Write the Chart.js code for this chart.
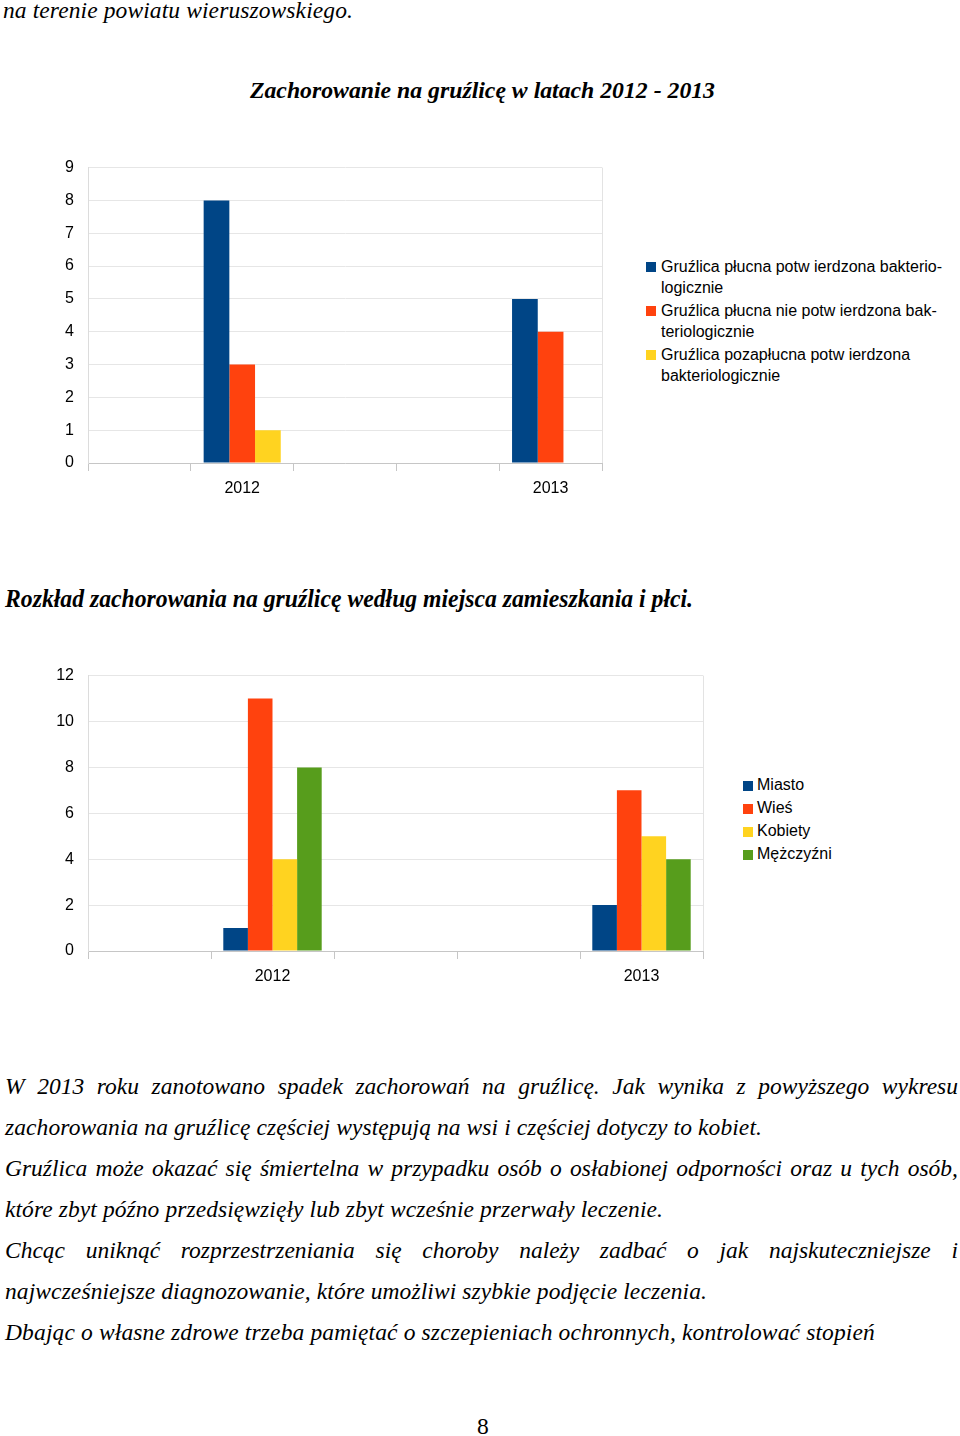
<!DOCTYPE html>
<html lang="pl">
<head>
<meta charset="utf-8">
<title>Zachorowanie na gruźlicę</title>
<script src="https://cdn.jsdelivr.net/npm/chart.js@4.4.1/dist/chart.umd.min.js"></script>
<style>
  html, body { margin: 0; padding: 0; background: #fff; }
  body { width: 960px; height: 1436px; position: relative; overflow: hidden;
    font-family: "Liberation Serif", "Times New Roman", serif; color: #000; }
  .line { position: absolute; white-space: nowrap; font-style: italic; font-size: 23.5px; }
  .body-line { left: 5px; width: 953px; line-height: 41px; }
  .just { text-align: justify; text-align-last: justify; }
  .title { font-weight: bold; line-height: 30px; transform-origin: left center; }
  canvas { position: absolute; }
  .legend { position: absolute; font-family: "Liberation Sans", Arial, sans-serif; font-size: 16px; color: #000; }
  .legend .item { position: relative; }
  .legend .sw { position: absolute; left: 0; width: 10px; height: 10px; }
</style>
</head>
<body>

<div class="line" style="left:3px; top:-4px; line-height:28px;" data-w="350">na terenie powiatu wieruszowskiego.</div>

<div class="line title" style="left:250px; top:76px; font-size:23px;" data-scale="465">Zachorowanie na gruźlicę w latach 2012 - 2013</div>
<canvas id="chart1" width="565" height="353" style="left:40px; top:144px;"></canvas>
<div class="legend" id="legend1" style="left:646px; top:256px;"></div>

<div class="line title" style="left:5px; top:584px; font-size:25px;" data-scale="688">Rozkład zachorowania na gruźlicę według miejsca zamieszkania i płci.</div>
<canvas id="chart2" width="666" height="333" style="left:40px; top:652px;"></canvas>
<div class="legend" id="legend2" style="left:743px; top:773px;"></div>

<div class="line body-line just" style="top:1066px;">W 2013 roku zanotowano spadek zachorowań na gruźlicę. Jak wynika z powyższego wykresu</div>
<div class="line body-line" style="top:1107px;" data-w="757">zachorowania na gruźlicę częściej występują na wsi i częściej dotyczy to kobiet.</div>
<div class="line body-line just" style="top:1148px;">Gruźlica może okazać się śmiertelna w przypadku osób o osłabionej odporności oraz u tych osób,</div>
<div class="line body-line" style="top:1189px;" data-w="658">które zbyt późno przedsięwzięły lub zbyt wcześnie przerwały leczenie.</div>
<div class="line body-line just" style="top:1230px;">Chcąc uniknąć rozprzestrzeniania się choroby należy zadbać o jak najskuteczniejsze i</div>
<div class="line body-line" style="top:1271px;" data-w="702">najwcześniejsze diagnozowanie, które umożliwi szybkie podjęcie leczenia.</div>
<div class="line body-line" style="top:1312px;" data-w="870">Dbając o własne zdrowe trzeba pamiętać o szczepieniach ochronnych, kontrolować stopień</div>

<div class="line" style="left:477px; top:1412px; line-height:28px; font-style:normal;">8</div>

<script>
// categories (empty slots are blank rows of the original sheet)
const categories = ['', '2012', '', '', '2013'];

// chart 1 – forms of tuberculosis
const series1Labels = [
  ['Gruźlica płucna potw ierdzona bakterio-', 'logicznie'],
  ['Gruźlica płucna nie potw ierdzona bak-', 'teriologicznie'],
  ['Gruźlica pozapłucna potw ierdzona', 'bakteriologicznie'],
];
const pulmonaryConfirmed = [null, 8, null, null, 5];
const pulmonaryUnconfirmed = [null, 3, null, null, 4];
const extrapulmonaryConfirmed = [null, 1, null, null, 0];

// chart 2 – place of residence and sex
const series2Labels = [['Miasto'], ['Wieś'], ['Kobiety'], ['Mężczyźni']];
const town = [null, 1, null, null, 2];
const village = [null, 11, null, null, 7];
const women = [null, 4, null, null, 5];
const men = [null, 8, null, null, 4];

const y1Ticks = { max: 9, step: 1 };
const y2Ticks = { max: 12, step: 2 };

const COLORS = ['#004586', '#ff420e', '#ffd320', '#579d1c'];
const FONT = { family: '"Liberation Sans", Arial, sans-serif', size: 16 };

const framePlugin = {
  id: 'frame',
  beforeDatasetsDraw(chart) {
    const a = chart.chartArea, ctx = chart.ctx;
    ctx.save();
    ctx.strokeStyle = '#e3e3e3';
    ctx.lineWidth = 1;
    ctx.beginPath();
    ctx.moveTo(Math.round(a.right) + 0.5, a.top);
    ctx.lineTo(Math.round(a.right) + 0.5, a.bottom);
    ctx.stroke();
    ctx.restore();
  },
};

function makeChart(id, labels, values, yOpt, catPct) {
  const datasets = values.map((v, i) => ({
    label: labels[i].join(' '),
    data: v,
    backgroundColor: COLORS[i],
    borderWidth: 0,
    barPercentage: 1,
    categoryPercentage: catPct,
  }));
  return new Chart(document.getElementById(id), {
    type: 'bar',
    data: { labels: categories, datasets },
    options: {
      responsive: false,
      animation: false,
      layout: { padding: { top: 10, right: 3, left: 0, bottom: 0 } },
      plugins: { legend: { display: false }, tooltip: { enabled: false } },
      scales: {
        x: {
          grid: { offset: true, drawOnChartArea: false, drawTicks: true, tickLength: 8, color: '#c6c6c6' },
          border: { color: '#c6c6c6' },
          ticks: { font: FONT, color: '#000', padding: 8, maxRotation: 0, autoSkip: false },
          afterFit: (s) => { s.height = 34; },
        },
        y: {
          min: 0, max: yOpt.max,
          grid: { color: '#e6e6e6', drawTicks: false },
          border: { color: '#dcdcdc' },
          ticks: { stepSize: yOpt.step, font: FONT, color: '#000', padding: 14 },
          afterFit: (s) => { s.width = 48; },
        },
      },
    },
    plugins: [framePlugin],
  });
}

function buildLegend(elId, chart, lines, lineH, gap, swTop, textLeft) {
  const el = document.getElementById(elId);
  chart.data.datasets.forEach((ds, i) => {
    const item = document.createElement('div');
    item.className = 'item';
    item.style.paddingLeft = textLeft + 'px';
    item.style.lineHeight = lineH + 'px';
    item.style.marginBottom = gap + 'px';
    item.innerHTML = `<span class="sw" style="top:${swTop}px;background:${ds.backgroundColor}"></span>` + lines[i].join('<br>');
    el.appendChild(item);
  });
}

const chart1 = makeChart('chart1', series1Labels,
  [pulmonaryConfirmed, pulmonaryUnconfirmed, extrapulmonaryConfirmed], y1Ticks, 0.75);
const chart2 = makeChart('chart2', series2Labels, [town, village, women, men], y2Ticks, 0.8);

buildLegend('legend1', chart1, series1Labels, 21, 2, 6, 15);
buildLegend('legend2', chart2, series2Labels, 23, 0, 8, 14);

// fit text runs to the widths measured on the scanned page
function fitText() {
  document.querySelectorAll('[data-scale]').forEach((el) => {
    el.style.display = 'inline-block';
    const w = el.getBoundingClientRect().width;
    el.style.transform = `scaleX(${+el.dataset.scale / w})`;
  });
  document.querySelectorAll('[data-w]').forEach((el) => {
    const span = document.createElement('span');
    span.textContent = el.textContent;
    el.textContent = '';
    el.appendChild(span);
    const w = span.getBoundingClientRect().width;
    const n = span.textContent.length;
    el.style.letterSpacing = ((+el.dataset.w - w) / n).toFixed(3) + 'px';
  });
  document.querySelectorAll('.just').forEach((el) => {
    const span = document.createElement('span');
    span.textContent = el.textContent;
    el.textContent = '';
    el.appendChild(span);
    const w = span.getBoundingClientRect().width;
    if (w > 953) el.style.letterSpacing = ((953 - w) / span.textContent.length).toFixed(3) + 'px';
    el.textContent = span.textContent;
  });
}
if (document.fonts && document.fonts.ready) document.fonts.ready.then(fitText); else fitText();
</script>
</body>
</html>
